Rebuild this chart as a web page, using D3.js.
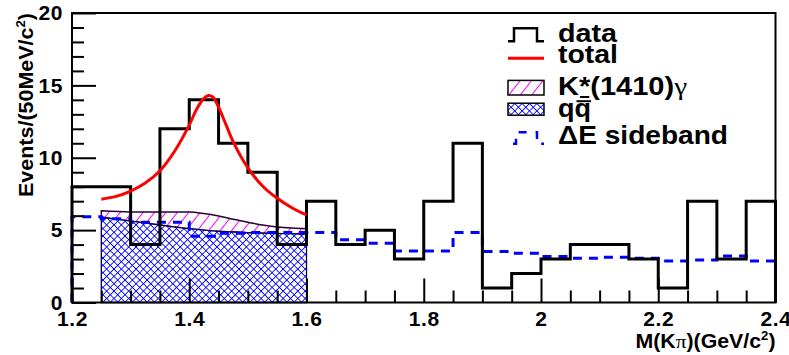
<!DOCTYPE html>
<html>
<head>
<meta charset="utf-8">
<script src="https://cdn.jsdelivr.net/npm/d3@7"></script>
<style>
  body { margin: 0; background: #fff; }
  svg { display: block; font-family: 'Liberation Sans', Arial, sans-serif; font-weight: bold; }
</style>
</head>
<body>
<div id="chart"></div>
<script>
// histogram bins (low edges, 50 MeV wide)
const binLow = [1.20, 1.25, 1.30, 1.35, 1.40, 1.45, 1.50, 1.55, 1.60, 1.65, 1.70, 1.75,
                1.80, 1.85, 1.90, 1.95, 2.00, 2.05, 2.10, 2.15, 2.20, 2.25, 2.30, 2.35];
const binWidth = 0.05;
const dataCounts = [8, 8, 4, 12, 14, 11, 9, 4, 7, 4, 5, 3, 7, 11, 1, 2, 3, 4, 4, 3, 1, 7, 3, 7];
const sideband = [5.92, 5.78, 5.55, 5.55, 4.58, 4.79, 4.83, 4.83, 4.83, 4.33, 4.1, 3.56,
                  3.56, 4.83, 3.52, 3.4, 3.17, 3.06, 3.13, 3.06, 2.87, 2.94, 3.22, 2.87];

// fit curves
const totalX = [1.25, 1.275, 1.30, 1.325, 1.35, 1.375, 1.40, 1.4125, 1.425, 1.4325, 1.44,
                1.45, 1.4625, 1.475, 1.50, 1.525, 1.55, 1.575, 1.60];
const totalY = [7.14, 7.33, 7.7, 8.25, 9.1, 10.45, 12.25, 13.35, 14.1, 14.3, 14.2,
                13.5, 12.3, 11.1, 9.3, 8.05, 7.2, 6.55, 6.05];
const bandX = [1.25, 1.30, 1.35, 1.40, 1.425, 1.45, 1.475, 1.50, 1.525, 1.55, 1.575, 1.60];
const qqTop = [5.9, 5.62, 5.35, 5.1, 5.0, 4.92, 4.87, 4.82, 4.79, 4.76, 4.74, 4.72];
const kstarTop = [6.33, 6.25, 6.25, 6.25, 6.15, 5.98, 5.75, 5.55, 5.35, 5.22, 5.14, 5.09];

const xTicks = [1.2, 1.4, 1.6, 1.8, 2, 2.2, 2.4];
const xMinorTicks = [1.25, 1.3, 1.35, 1.45, 1.5, 1.55, 1.65, 1.7, 1.75, 1.85, 1.9, 1.95,
                     2.05, 2.1, 2.15, 2.25, 2.3, 2.35];
const yTicks = [0, 5, 10, 15, 20];
const yMinorTicks = [1, 2, 3, 4, 6, 7, 8, 9, 11, 12, 13, 14, 16, 17, 18, 19];

const legendLabels = ['data', 'total', 'K*(1410)γ', 'qq', 'ΔE sideband'];

const width = 789;
const height = 355;
const frame = {left: 72, right: 775.5, top: 13, bottom: 302.5};

const svg = d3.select('#chart')
  .append('svg')
    .attr('viewBox', [0, 0, width, height])
    .attr('width', width)
    .attr('height', height);

const defs = svg.append('defs');
// magenta single hatch
const hatch = defs.append('pattern')
    .attr('id', 'hatchK')
    .attr('patternUnits', 'userSpaceOnUse')
    .attr('width', 9)
    .attr('height', 9)
    .attr('patternTransform', 'rotate(38)');
hatch.append('line')
    .attr('x1', 0.5).attr('y1', 0).attr('x2', 0.5).attr('y2', 9)
    .attr('stroke', '#ff00ff')
    .attr('stroke-width', 1);
// blue cross hatch
const cross = defs.append('pattern')
    .attr('id', 'crossQQ')
    .attr('patternUnits', 'userSpaceOnUse')
    .attr('width', 5.2)
    .attr('height', 5.2)
    .attr('patternTransform', 'rotate(45)');
cross.append('rect')
    .attr('width', 5.2).attr('height', 5.2).attr('fill', '#fff');
cross.append('path')
    .attr('d', 'M0.4,0V5.2M0,0.4H5.2')
    .attr('stroke', '#0000ff')
    .attr('stroke-width', 0.9);

const x = d3.scaleLinear()
  .domain([1.2, 2.4])
  .range([frame.left, frame.right]);
const y = d3.scaleLinear()
  .domain([0, 20])
  .range([frame.bottom, frame.top]);

// K*(1410) band stacked on top of qq
svg.append('path')
    .datum(bandX)
    .attr('fill', 'url(#hatchK)')
    .attr('stroke', '#2a0030')
    .attr('stroke-width', 1.5)
    .attr('d', d3.area()
      .x(d => x(d))
      .y0((d, i) => y(qqTop[i]))
      .y1((d, i) => y(kstarTop[i]))
      .curve(d3.curveMonotoneX));

// qq continuum
svg.append('path')
    .datum(bandX)
    .attr('fill', 'url(#crossQQ)')
    .attr('stroke', '#000050')
    .attr('stroke-width', 1.3)
    .attr('d', d3.area()
      .x(d => x(d))
      .y0(y(0))
      .y1((d, i) => y(qqTop[i]))
      .curve(d3.curveMonotoneX));

// histogram helper: step outline, closed down to zero at both ends
function stepPoints(values) {
  const pts = [[binLow[0], 0]];
  values.forEach((v, i) => pts.push([binLow[i], v]));
  const lastEdge = binLow[binLow.length - 1] + binWidth;
  pts.push([lastEdge, values[values.length - 1]]);
  pts.push([lastEdge, 0]);
  return pts;
}
const stepLine = d3.line()
  .x(d => x(d[0]))
  .y(d => y(d[1]))
  .curve(d3.curveStepAfter);

// dE sideband
svg.append('path')
    .datum(stepPoints(sideband))
    .attr('fill', 'none')
    .attr('stroke', '#0000ff')
    .attr('stroke-width', 3)
    .attr('stroke-dasharray', '9 7')
    .attr('d', stepLine);

// data
svg.append('path')
    .datum(stepPoints(dataCounts))
    .attr('fill', 'none')
    .attr('stroke', '#000')
    .attr('stroke-width', 3)
    .attr('d', stepLine);

// total fit
svg.append('path')
    .datum(totalX)
    .attr('fill', 'none')
    .attr('stroke', '#ff0000')
    .attr('stroke-width', 3)
    .attr('d', d3.line()
      .x(d => x(d))
      .y((d, i) => y(totalY[i]))
      .curve(d3.curveCatmullRom));

// axes (ticks point inside the frame)
svg.append('g')
    .attr('transform', `translate(0, ${frame.bottom})`)
    .call(d3.axisBottom(x).tickValues(xTicks).tickSize(-24).tickPadding(9).tickFormat(d3.format('')));
svg.append('g')
    .attr('transform', `translate(0, ${frame.bottom})`)
    .call(d3.axisBottom(x).tickValues(xMinorTicks).tickSize(-12).tickFormat(''));
svg.append('g')
    .attr('transform', `translate(${frame.left}, 0)`)
    .call(d3.axisLeft(y).tickValues(yTicks).tickSize(-24).tickPadding(9));
svg.append('g')
    .attr('transform', `translate(${frame.left}, 0)`)
    .call(d3.axisLeft(y).tickValues(yMinorTicks).tickSize(-12).tickFormat(''));

svg.selectAll('.domain').remove();
svg.selectAll('.tick line').attr('stroke', '#000').attr('stroke-width', 2);
svg.selectAll('.tick text')
    .attr('fill', '#000')
    .style('font-family', "'Liberation Sans', Arial, sans-serif")
    .style('font-weight', 'bold')
    .style('font-size', '21px')
    .style('letter-spacing', '0.6px');

// frame
svg.append('rect')
    .attr('x', frame.left)
    .attr('y', frame.top)
    .attr('width', frame.right - frame.left)
    .attr('height', frame.bottom - frame.top)
    .attr('fill', 'none')
    .attr('stroke', '#000')
    .attr('stroke-width', 2);

// axis titles
const yTitle = svg.append('text')
    .attr('transform', `translate(32.5, ${frame.top}) rotate(-90)`)
    .attr('text-anchor', 'end')
    .attr('font-size', 19.5)
    .attr('textLength', 184)
    .attr('lengthAdjust', 'spacingAndGlyphs');
yTitle.append('tspan').text('Events/(50MeV/c');
yTitle.append('tspan').attr('font-size', 12).attr('dy', -8).text('2');
yTitle.append('tspan').attr('dy', 8).text(')');

const xTitle = svg.append('text')
    .attr('x', frame.right)
    .attr('y', 348.3)
    .attr('text-anchor', 'end')
    .attr('font-size', 19.5)
    .attr('textLength', 140)
    .attr('lengthAdjust', 'spacingAndGlyphs');
xTitle.append('tspan').text('M(K');
xTitle.append('tspan').attr('font-family', "'Liberation Serif', serif").attr('font-weight', 'normal').text('π');
xTitle.append('tspan').text(')(GeV/c');
xTitle.append('tspan').attr('font-size', 12).attr('dy', -8).text('2');
xTitle.append('tspan').attr('dy', 8).text(')');

// legend
const legendSymX = 508, legendSymW = 36, legendTextX = 558;
const legendRowY = [34.7, 58.3, 87.7, 109.2, 138];
const legendBase = [41.7, 63.3, 95, 116.7, 144.3];
const legendTextW = [59, 60, 129, 33, 170];
const legend = svg.append('g').attr('class', 'legend');

const stepSymbol = cy => `M${legendSymX},${cy + 6.5}H${legendSymX + 6}V${cy - 6.5}H${legendSymX + 29}V${cy + 6.5}H${legendSymX + legendSymW}`;
legend.append('path')
    .attr('d', stepSymbol(legendRowY[0]))
    .attr('fill', 'none').attr('stroke', '#000').attr('stroke-width', 2.5);
legend.append('line')
    .attr('x1', legendSymX).attr('x2', legendSymX + legendSymW)
    .attr('y1', legendRowY[1]).attr('y2', legendRowY[1])
    .attr('stroke', '#ff0000').attr('stroke-width', 3);
legend.append('rect')
    .attr('x', legendSymX).attr('y', legendRowY[2] - 7.3)
    .attr('width', legendSymW).attr('height', 14.6)
    .attr('fill', 'url(#hatchK)').attr('stroke', '#000').attr('stroke-width', 1.5);
legend.append('rect')
    .attr('x', legendSymX).attr('y', legendRowY[3] - 6)
    .attr('width', legendSymW).attr('height', 12)
    .attr('fill', 'url(#crossQQ)').attr('stroke', '#000').attr('stroke-width', 1.5);
legend.append('path')
    .attr('d', `M${legendSymX + 5},${legendRowY[4] + 5.7}H${legendSymX + 8}V${legendRowY[4] - 5.7}H${legendSymX + 29}V${legendRowY[4] + 5.7}H${legendSymX + legendSymW}`)
    .attr('fill', 'none').attr('stroke', '#0000ff').attr('stroke-width', 2.5)
    .attr('stroke-dasharray', '8 9');

const legendTexts = legend.selectAll('.legend-label')
  .data(legendLabels)
  .join('text')
    .attr('class', 'legend-label')
    .attr('x', legendTextX)
    .attr('y', (d, i) => legendBase[i])
    .attr('font-size', 25.5)
    .attr('textLength', (d, i) => legendTextW[i])
    .attr('lengthAdjust', 'spacingAndGlyphs');
legendTexts.each(function (d) {
  const t = d3.select(this);
  if (d.endsWith('γ')) {
    t.append('tspan').text(d.slice(0, -1));
    t.append('tspan').attr('font-family', "'Liberation Serif', serif").attr('font-weight', 'normal').text('γ');
  } else {
    t.text(d);
  }
});

// bar under the K* star and over the anti-quark
const kNode = legendTexts.filter((d, i) => i === 2).node();
const s0 = kNode.getStartPositionOfChar(1).x, s1 = kNode.getEndPositionOfChar(1).x;
legend.append('line')
    .attr('x1', s0 + 1).attr('x2', s1 - 1)
    .attr('y1', legendBase[2] + 2).attr('y2', legendBase[2] + 2)
    .attr('stroke', '#000').attr('stroke-width', 2);
const qNode = legendTexts.filter((d, i) => i === 3).node();
const q0 = qNode.getStartPositionOfChar(1).x, q1 = qNode.getEndPositionOfChar(1).x;
legend.append('line')
    .attr('x1', q0 + 2).attr('x2', q1)
    .attr('y1', legendBase[3] - 15.5).attr('y2', legendBase[3] - 15.5)
    .attr('stroke', '#000').attr('stroke-width', 2);
</script>
</body>
</html>
